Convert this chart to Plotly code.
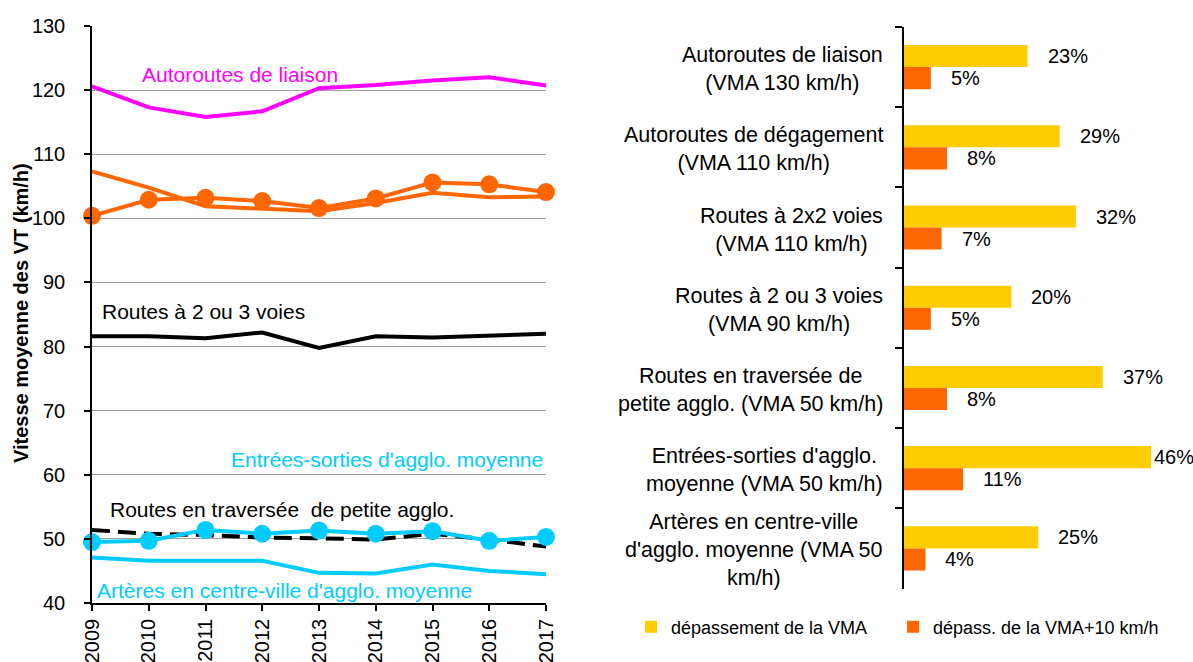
import plotly.graph_objects as go

# ---------------- data ----------------
years = [2009, 2010, 2011, 2012, 2013, 2014, 2015, 2016, 2017]
year_labels = [str(y) for y in years]

autoroutes_liaison = [120.6, 117.3, 115.8, 116.7, 120.3, 120.8, 121.5, 122.0, 120.7]
autoroutes_degagement = [107.3, 104.8, 101.9, 101.5, 101.1, 102.4, 104.0, 103.3, 103.4]
routes_2x2 = [100.4, 102.9, 103.2, 102.7, 101.6, 103.1, 105.6, 105.3, 104.1]
routes_2_3 = [81.6, 81.6, 81.3, 82.2, 79.8, 81.6, 81.4, 81.7, 82.0]
traversee_petite = [51.4, 50.8, 50.6, 50.2, 50.1, 49.9, 50.8, 49.9, 48.8]
entrees_sorties = [49.5, 49.7, 51.4, 50.8, 51.3, 50.8, 51.2, 49.7, 50.3]
arteres_centre = [47.1, 46.6, 46.6, 46.6, 44.7, 44.6, 46.0, 45.0, 44.5]

bar_categories = [
    "Autoroutes de liaison<br>(VMA 130 km/h)",
    "Autoroutes de dégagement<br>(VMA 110 km/h)",
    "Routes à 2x2 voies<br>(VMA 110 km/h)",
    "Routes à 2 ou 3 voies<br>(VMA 90 km/h)",
    "Routes en traversée de<br>petite agglo. (VMA 50 km/h)",
    "Entrées-sorties d'agglo.<br>moyenne (VMA 50 km/h)",
    "Artères en centre-ville<br>d'agglo. moyenne (VMA 50<br>km/h)",
]
depassement_vma = [23, 29, 32, 20, 37, 46, 25]
depassement_vma10 = [5, 8, 7, 5, 8, 11, 4]

# ---------------- style ----------------
FONT = "Liberation Sans, Arial, sans-serif"
MAGENTA = "#FF00FF"
ORANGE = "#FF6600"
CYAN = "#00CCFF"
BLACK = "#000000"
YELLOW = "#FFCC00"
W, H = 1193, 662

fig = go.Figure()

def line(y, color, name, markers=False, dash="solid"):
    fig.add_trace(go.Scatter(
        x=years, y=y, name=name, mode="lines+markers" if markers else "lines",
        line=dict(color=color, width=4, dash=dash),
        marker=dict(size=18, color=color),
        cliponaxis=False, showlegend=False, xaxis="x", yaxis="y",
    ))

line(autoroutes_liaison, MAGENTA, "Autoroutes de liaison")
line(autoroutes_degagement, ORANGE, "Autoroutes de dégagement")
line(routes_2x2, ORANGE, "Routes à 2x2 voies", markers=True)
line(routes_2_3, BLACK, "Routes à 2 ou 3 voies")
line(traversee_petite, BLACK, "Routes en traversée de petite agglo.", dash="18px,8px")
line(arteres_centre, CYAN, "Artères en centre-ville d'agglo. moyenne")
line(entrees_sorties, CYAN, "Entrées-sorties d'agglo. moyenne", markers=True)

fig.add_trace(go.Bar(
    y=bar_categories, x=depassement_vma, orientation="h", name="dépassement de la VMA",
    marker=dict(color=YELLOW, line=dict(width=0)), xaxis="x2", yaxis="y2",
    legend="legend",
))
fig.add_trace(go.Bar(
    y=bar_categories, x=depassement_vma10, orientation="h", name="dépass. de la VMA+10 km/h",
    marker=dict(color=ORANGE, line=dict(width=0)), xaxis="x2", yaxis="y2",
    legend="legend2",
))

ann = []
# line labels (left chart)
def lab(text, x, y, color, xanchor="right"):
    ann.append(dict(text=text, x=x, y=y, xref="x", yref="y", xanchor=xanchor,
                    yanchor="middle", showarrow=False,
                    font=dict(family=FONT, size=21, color=color)))

lab("121 km/h", 2017.65, 124.4, MAGENTA)
lab("Autoroutes de liaison", 2011.61, 122.4, MAGENTA, "center")
lab("Routes à 2x2 voies", 2017.56, 113.0, ORANGE)
lab("104 km/h", 2017.6, 108.3, ORANGE)
lab("103 km/h", 2017.6, 99.4, ORANGE)
lab("Autoroutes de dégagement", 2017.6, 95.8, ORANGE)
lab("Routes à 2 ou 3 voies", 2009.14, 85.4, BLACK, "left")
lab("82 km/h", 2017.6, 83.7, BLACK)
lab("Entrées-sorties d'agglo. moyenne", 2016.98, 62.45, CYAN)
lab("Routes en traversée  de petite agglo.", 2009.28, 54.65, BLACK, "left")
lab("50 km/h", 2017.6, 54.0, CYAN)
lab("49 km/h", 2017.6, 46.2, BLACK)
lab("Artères en centre-ville d'agglo. moyenne", 2009.05, 41.9, CYAN, "left")
lab("44 km/h", 2017.6, 41.4, CYAN)

# y-axis title
ann.append(dict(text="<b>Vitesse moyenne des VT (km/h)</b>", x=21 / W, y=(1 - 313 / H),
                xref="paper", yref="paper", textangle=-90, showarrow=False,
                xanchor="center", yanchor="middle",
                font=dict(family=FONT, size=20, color=BLACK)))

# bar category labels (centered text, right-aligned block)
for c in bar_categories:
    ann.append(dict(text=c, x=0, y=c, xref="x2 domain", yref="y2", xanchor="right",
                    yanchor="middle", xshift=-19, yshift=-2, align="center", showarrow=False,
                    font=dict(family=FONT, size=21.5, color=BLACK)))

# bar value labels
LABEL_GAP = 3.35
LABEL_MAX = 46.1
for c, v1, v2 in zip(bar_categories, depassement_vma, depassement_vma10):
    for v, ys in ((v1, 11), (v2, -11)):
        ann.append(dict(text=f"{v}%", x=min(v + LABEL_GAP, LABEL_MAX), y=c, xref="x2", yref="y2",
                        xanchor="left", yanchor="middle", yshift=ys, showarrow=False,
                        font=dict(family=FONT, size=20, color=BLACK)))

legend_style = dict(orientation="h", xanchor="left", yanchor="middle",
                    font=dict(family=FONT, size=18, color=BLACK), bgcolor="rgba(0,0,0,0)")

fig.update_layout(
    width=W, height=H, margin=dict(l=0, r=0, t=0, b=0),
    paper_bgcolor="white", plot_bgcolor="white",
    font=dict(family=FONT, size=20, color=BLACK),
    barmode="group", bargap=0.45, bargroupgap=0,
    annotations=ann,
    xaxis=dict(domain=[92 / W, 546 / W], range=[2009, 2017], tickmode="array",
               tickvals=years, ticktext=year_labels, tickangle=-90,
               ticks="outside", ticklen=6, tickcolor=BLACK, tickwidth=1.5,
               showline=True, linecolor=BLACK, linewidth=1.5, showgrid=False,
               zeroline=False, automargin=False, anchor="y", ticklabelstandoff=0,
               tickfont=dict(family=FONT, size=20, color=BLACK)),
    yaxis=dict(domain=[1 - 603 / H, 1 - 26 / H], range=[40, 130], dtick=10,
               ticks="outside", ticklen=6, tickcolor=BLACK, tickwidth=1.5,
               showline=True, linecolor=BLACK, linewidth=1.5,
               showgrid=True, gridcolor="#A0A0A0", gridwidth=1, zeroline=False,
               automargin=False, anchor="x", ticklabelstandoff=15,
               tickfont=dict(family=FONT, size=20, color=BLACK)),
    xaxis2=dict(domain=[904 / W, (904 + 268.5) / W], range=[0, 50], visible=False,
                anchor="y2"),
    yaxis2=dict(domain=[1 - 588.5 / H, 1 - 27 / H], type="category",
                categoryorder="array", categoryarray=bar_categories,
                range=[len(bar_categories) - 0.5, -0.5],
                showline=True, linecolor=BLACK, linewidth=1.5,
                ticks="outside", tickson="boundaries", ticklen=7, tickcolor=BLACK,
                tickwidth=1.5, showticklabels=False, showgrid=False, zeroline=False,
                automargin=False, anchor="x2"),
    legend=dict(x=631 / W, y=1 - 627 / H, **legend_style),
    legend2=dict(x=893 / W, y=1 - 627 / H, **legend_style),
)

fig.write_html(
    "out.html",
    config={"displayModeBar": False},
    post_script="document.body.style.margin='0';document.body.style.overflow='hidden';",
)
